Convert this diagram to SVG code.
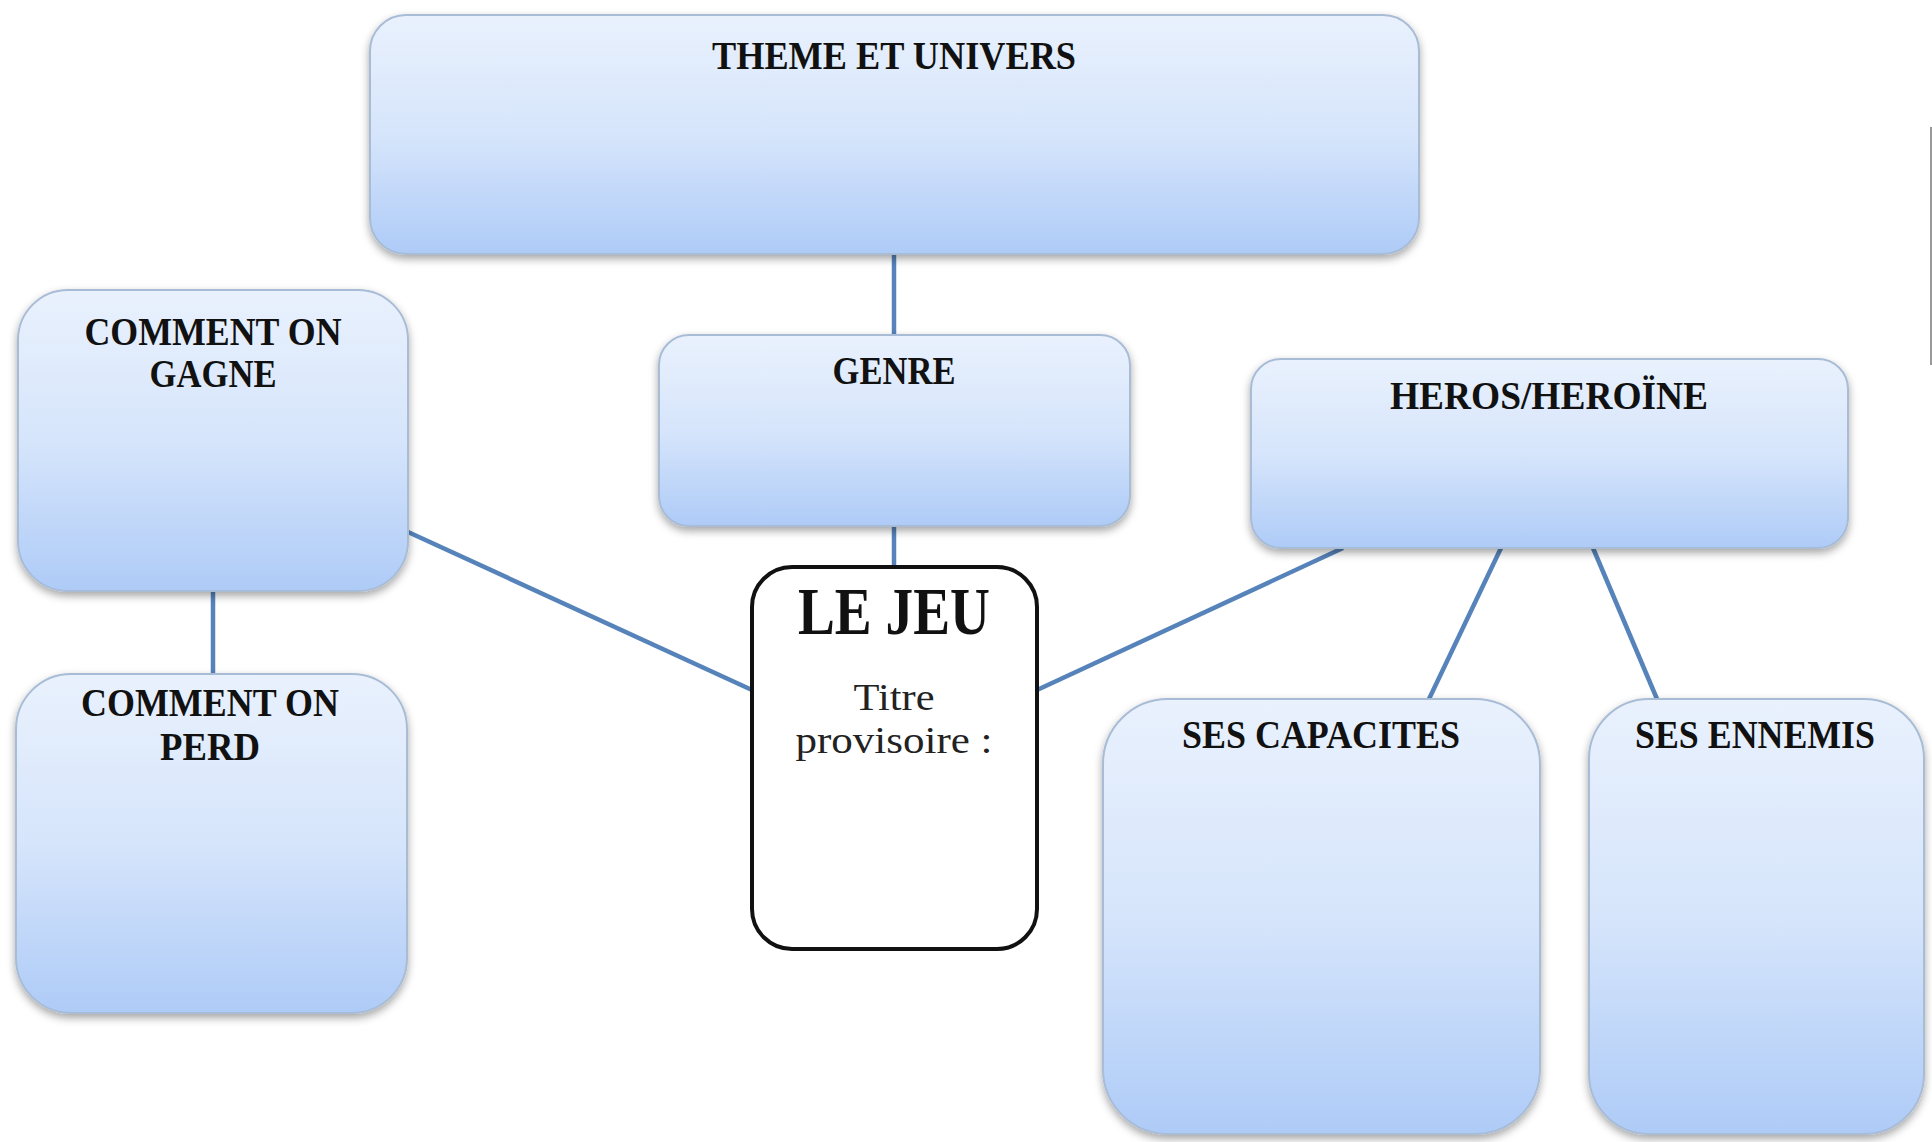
<svg xmlns="http://www.w3.org/2000/svg" width="1932" height="1142" viewBox="0 0 1932 1142">
<defs>
<linearGradient id="g" x1="0" y1="0" x2="0" y2="1">
<stop offset="0" stop-color="#e9f1fd"/>
<stop offset="0.5" stop-color="#d6e5fb"/>
<stop offset="1" stop-color="#aecbf7"/>
</linearGradient>
<filter id="sh" x="-10%" y="-10%" width="120%" height="125%">
<feDropShadow dx="0" dy="4" stdDeviation="4" flood-color="#000" flood-opacity="0.35"/>
</filter>
</defs>
<style>
.box{fill:url(#g);stroke:#a9bcd6;stroke-width:2;filter:url(#sh)}
.lbl{font-family:"Liberation Serif","DejaVu Serif",serif;font-weight:bold;font-size:40px;fill:#111;text-anchor:middle}
.con{stroke:#5683ba;stroke-width:4.5;fill:none}
.jeu{fill:#fff;stroke:#111;stroke-width:4}
.big{font-family:"Liberation Serif","DejaVu Serif",serif;font-weight:bold;font-size:68px;fill:#111;text-anchor:middle}
.reg{font-family:"Liberation Serif","DejaVu Serif",serif;font-size:37px;fill:#222;text-anchor:middle}
</style>
<rect width="1932" height="1142" fill="#fff"/>
<g id="connectors">
<line class="con" x1="894" y1="254" x2="894" y2="335"/>
<line class="con" x1="894" y1="526" x2="894" y2="567"/>
<line class="con" x1="213" y1="591" x2="213" y2="674"/>
<line class="con" x1="408" y1="532" x2="752" y2="690"/>
<line class="con" x1="1037" y1="690" x2="1343" y2="548"/>
<line class="con" x1="1501" y1="548" x2="1429" y2="699"/>
<line class="con" x1="1593" y1="548" x2="1657" y2="699"/>
</g>
<g id="theme">
<rect class="box" x="370" y="15" width="1049" height="239" rx="36"/>
<text class="lbl" x="894" y="69" textLength="364" lengthAdjust="spacingAndGlyphs">THEME ET UNIVERS</text>
</g>
<g id="genre">
<rect class="box" x="659" y="335" width="471" height="191" rx="30"/>
<text class="lbl" x="894" y="384" textLength="123" lengthAdjust="spacingAndGlyphs">GENRE</text>
</g>
<g id="gagne">
<rect class="box" x="18" y="290" width="390" height="301" rx="50"/>
<text class="lbl" x="213" y="345" textLength="257" lengthAdjust="spacingAndGlyphs">COMMENT ON</text>
<text class="lbl" x="213" y="387" textLength="127" lengthAdjust="spacingAndGlyphs">GAGNE</text>
</g>
<g id="perd">
<rect class="box" x="16" y="674" width="391" height="339" rx="55"/>
<text class="lbl" x="210" y="716" textLength="258" lengthAdjust="spacingAndGlyphs">COMMENT ON</text>
<text class="lbl" x="210" y="760" textLength="100" lengthAdjust="spacingAndGlyphs">PERD</text>
</g>
<g id="jeu">
<rect class="jeu" x="752" y="567" width="285" height="382" rx="40"/>
<text class="big" x="894" y="634" textLength="192" lengthAdjust="spacingAndGlyphs">LE JEU</text>
<text class="reg" x="894" y="710" textLength="81" lengthAdjust="spacingAndGlyphs">Titre</text>
<text class="reg" x="894" y="753" textLength="197" lengthAdjust="spacingAndGlyphs">provisoire :</text>
</g>
<g id="heros">
<rect class="box" x="1251" y="359" width="597" height="189" rx="30"/>
<text class="lbl" x="1549" y="409" textLength="318" lengthAdjust="spacingAndGlyphs">HEROS/HEROÏNE</text>
</g>
<g id="capacites">
<rect class="box" x="1103" y="699" width="437" height="435" rx="65"/>
<text class="lbl" x="1321" y="748" textLength="278" lengthAdjust="spacingAndGlyphs">SES CAPACITES</text>
</g>
<g id="ennemis">
<rect class="box" x="1589" y="699" width="335" height="435" rx="60"/>
<text class="lbl" x="1755" y="748" textLength="240" lengthAdjust="spacingAndGlyphs">SES ENNEMIS</text>
</g>
<line x1="1931" y1="127" x2="1931" y2="365" stroke="#999" stroke-width="2"/>
</svg>
